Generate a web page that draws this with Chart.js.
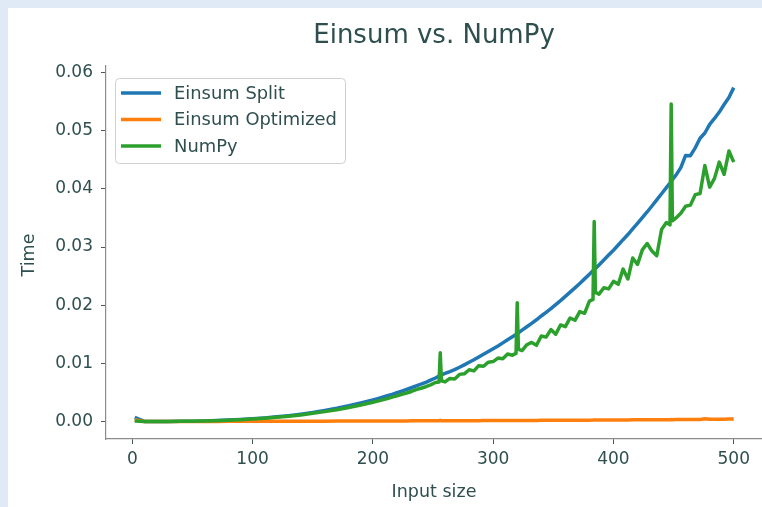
<!DOCTYPE html>
<html>
<head>
<meta charset="utf-8">
<title>Einsum vs. NumPy</title>
<script src="https://cdn.jsdelivr.net/npm/chart.js@4.4.1/dist/chart.umd.min.js"></script>
<style>
	html, body { margin: 0; padding: 0; background: #dfeaf6; width: 762px; height: 507px; overflow: hidden; }
	#wrap { position: absolute; left: 8px; top: 8px; width: 754px; height: 499px; background: #ffffff; }
</style>
</head>
<body>
<div id="wrap"><canvas id="timeChart" width="754" height="499"></canvas></div>
<script>

// input sizes (x values), spikes sit on multiples of 64
var inputSizes = [2,10,20,30,40,50,60,70,80,90,100,110,120,130,140,150,160,170,180,190,200,
	204,208,212,216,220,224,228,232,236,240,244,248,252,255,256,257,
	260,264,268,272,276,280,284,288,292,296,300,304,308,312,316,319,320,321,
	324,328,332,336,340,344,348,352,356,360,364,368,372,376,380,383,384,385,
	388,392,396,400,404,408,412,416,420,424,428,432,436,440,444,447,448,449,
	452,456,460,464,468,472,476,480,484,488,492,496,500];

var einsumSplit = [0.0007,0.00002,0.00001,0.00002,0.00004,0.00006,0.0001,0.00016,0.00024,0.00034,0.00046,0.00061,0.0008,0.00101,0.00126,0.00155,0.00189,0.00227,0.0027,0.00318,0.0037,
	0.00393,0.00417,0.00442,0.00467,0.00494,0.00521,0.0055,0.0058,0.00611,0.00641,0.00674,0.0071,0.00748,0.0078,0.0079,0.008,
	0.00826,0.00858,0.00893,0.00932,0.00974,0.01018,0.01061,0.01109,0.01156,0.01204,0.01252,0.01298,0.01352,0.01406,0.01457,0.01496,0.0151,0.01524,
	0.0157,0.01628,0.01688,0.01749,0.01814,0.01876,0.01941,0.0201,0.02079,0.02152,0.02224,0.02298,0.02374,0.02452,0.0253,0.0259,0.0261,0.0263,
	0.02692,0.02776,0.02862,0.02945,0.03034,0.03126,0.03214,0.0331,0.03405,0.03504,0.03602,0.03705,0.0381,0.03915,0.0402,0.041,0.0413,0.0416,
	0.04235,0.04365,0.04575,0.0457,0.04705,0.0487,0.0496,0.0511,0.0521,0.0532,0.0545,0.0557,0.0574];

var einsumOptimized = [0.0003,0.00001,0.00001,0.00001,0.00001,0.00002,0.00002,0.00002,0.00003,0.00003,0.00003,0.00004,0.00004,0.00005,0.00005,0.00006,0.00006,0.00007,0.00007,0.00008,0.00008,
	0.00008,0.00009,0.00009,0.00009,0.0001,0.0001,0.0001,0.00011,0.00011,0.00011,0.00012,0.00012,0.00012,0.00013,0.0002,0.00013,
	0.00013,0.00013,0.00014,0.00014,0.00014,0.00015,0.00015,0.00015,0.00016,0.00016,0.00016,0.00017,0.00017,0.00017,0.00018,0.00018,0.00019,0.00018,
	0.00018,0.00019,0.00019,0.00019,0.0002,0.0002,0.0002,0.00021,0.00021,0.00021,0.00022,0.00022,0.00023,0.00023,0.00023,0.00024,0.00025,0.00024,
	0.00024,0.00025,0.00025,0.00026,0.00026,0.00027,0.00027,0.00028,0.00028,0.00029,0.00029,0.0003,0.0003,0.00031,0.00031,0.00032,0.00033,0.00032,
	0.00033,0.00033,0.00034,0.00035,0.00035,0.00036,0.00048,0.00037,0.00038,0.00039,0.0004,0.00041,0.00042];

var numpyTime = [0.0001,0.00001,0.00001,0.00002,0.00003,0.00005,0.00009,0.00014,0.00021,0.0003,0.00042,0.00055,0.00072,0.00091,0.00113,0.0014,0.0017,0.00203,0.00242,0.00285,0.0033,
	0.00351,0.00372,0.00394,0.00418,0.00441,0.00468,0.0049,0.00516,0.0055,0.00571,0.00598,0.0063,0.0067,0.0068,0.0118,0.007,
	0.0068,0.0074,0.0073,0.0081,0.0082,0.0089,0.0087,0.0096,0.0095,0.0102,0.0103,0.0109,0.0108,0.0116,0.0114,0.0117,0.0204,0.0124,
	0.0122,0.0132,0.0136,0.0131,0.0147,0.0145,0.0158,0.015,0.0166,0.0163,0.0178,0.0174,0.0189,0.0186,0.0207,0.021,0.0344,0.0222,
	0.0219,0.023,0.0228,0.0241,0.0236,0.0262,0.0245,0.0281,0.027,0.0295,0.0306,0.0293,0.0285,0.033,0.0342,0.0338,0.0546,0.0345,
	0.035,0.0358,0.037,0.0372,0.039,0.0392,0.044,0.0403,0.0418,0.0446,0.0425,0.0465,0.0446];

var seriesNames = ['Einsum Split', 'Einsum Optimized', 'NumPy'];
var seriesColors = ['#1f77b4', '#ff7f0e', '#2ca02c'];

var xTicks = [0, 100, 200, 300, 400, 500];
var yTicks = [0, 0.01, 0.02, 0.03, 0.04, 0.05, 0.06];

var chartTitle = 'Einsum vs. NumPy';
var xTitle = 'Input size';
var yTitle = 'Time';

var textColor = '#2f4f4f';

function toPoints(ys){
	return inputSizes.map(function(x, i){ return {x: x, y: ys[i]}; });
}

// title, axis titles and the boxed legend (matplotlib style, inside the plot)
var decorPlugin = {
	id: 'decor',
	afterDraw: function(chart){
		var ctx = chart.ctx;
		ctx.save();
		ctx.fillStyle = textColor;

		ctx.font = "26px 'DejaVu Sans'";
		ctx.textAlign = 'center';
		ctx.textBaseline = 'alphabetic';
		ctx.fillText(chartTitle, 426, 34.5);

		ctx.font = "17.5px 'DejaVu Sans'";
		ctx.fillText(xTitle, 426, 488.5);

		ctx.save();
		ctx.translate(26, 247);
		ctx.rotate(-Math.PI / 2);
		ctx.fillText(yTitle, 0, 0);
		ctx.restore();

		// legend box
		var bx = 107.5, by = 70.5, bw = 230, bh = 85, r = 4;
		ctx.beginPath();
		ctx.moveTo(bx + r, by);
		ctx.arcTo(bx + bw, by, bx + bw, by + bh, r);
		ctx.arcTo(bx + bw, by + bh, bx, by + bh, r);
		ctx.arcTo(bx, by + bh, bx, by, r);
		ctx.arcTo(bx, by, bx + bw, by, r);
		ctx.closePath();
		ctx.fillStyle = 'rgba(255,255,255,0.8)';
		ctx.fill();
		ctx.strokeStyle = '#d0d0d0';
		ctx.lineWidth = 1;
		ctx.stroke();

		ctx.font = "17.9px 'DejaVu Sans'";
		ctx.textAlign = 'left';
		ctx.textBaseline = 'middle';
		chart.data.datasets.forEach(function(ds, i){
			var rowY = 85 + i * 26.5;
			ctx.strokeStyle = ds.borderColor;
			ctx.lineWidth = 3.5;
			ctx.beginPath();
			ctx.moveTo(113, rowY);
			ctx.lineTo(153, rowY);
			ctx.stroke();
			ctx.fillStyle = textColor;
			ctx.fillText(ds.label, 166, rowY + 1);
		});

		ctx.restore();
	}
};

Chart.defaults.font.family = "'DejaVu Sans', sans-serif";
Chart.defaults.font.size = 17;
Chart.defaults.color = textColor;

var allSeries = [einsumSplit, einsumOptimized, numpyTime];

var ctx = document.getElementById('timeChart').getContext('2d');
var chart = new Chart(ctx, {
	type: 'line',
	data: {
		datasets: allSeries.map(function(ys, i){
			return {
				label: seriesNames[i],
				data: toPoints(ys),
				borderColor: seriesColors[i],
				backgroundColor: seriesColors[i],
				borderWidth: 3.5,
				borderJoinStyle: 'round',
				pointRadius: 0,
				tension: 0,
				fill: false,
				order: 3 - i
			};
		})
	},
	options: {
		responsive: false,
		animation: false,
		devicePixelRatio: 1,
		layout: { padding: { top: 58, left: 0, right: 0, bottom: 0 } },
		plugins: {
			legend: { display: false },
			title: { display: false },
			tooltip: { enabled: false }
		},
		scales: {
			x: {
				type: 'linear',
				min: -21.87,
				max: 523.5,
				afterFit: function(scale){ scale.height = 68; },
				afterBuildTicks: function(scale){
					scale.ticks = xTicks.map(function(v){ return {value: v}; });
				},
				ticks: {
					autoSkip: false,
					maxRotation: 0,
					padding: 5,
					color: textColor,
					callback: function(v){ return String(v); }
				},
				grid: { drawOnChartArea: false, drawTicks: true, tickLength: 5, tickColor: '#4a5a5a', tickWidth: 1 },
				border: { display: true, color: '#8c8c8c', width: 1.2 }
			},
			y: {
				type: 'linear',
				min: -0.003009,
				max: 0.06112,
				afterFit: function(scale){ scale.width = 98; },
				afterBuildTicks: function(scale){
					scale.ticks = yTicks.map(function(v){ return {value: v}; });
				},
				ticks: {
					autoSkip: false,
					padding: 8,
					color: textColor,
					callback: function(v){ return Number(v).toFixed(2); }
				},
				grid: { drawOnChartArea: false, drawTicks: true, tickLength: 5, tickColor: '#4a5a5a', tickWidth: 1 },
				border: { display: true, color: '#8c8c8c', width: 1.2 }
			}
		}
	},
	plugins: [decorPlugin]
});

</script>
</body>
</html>
